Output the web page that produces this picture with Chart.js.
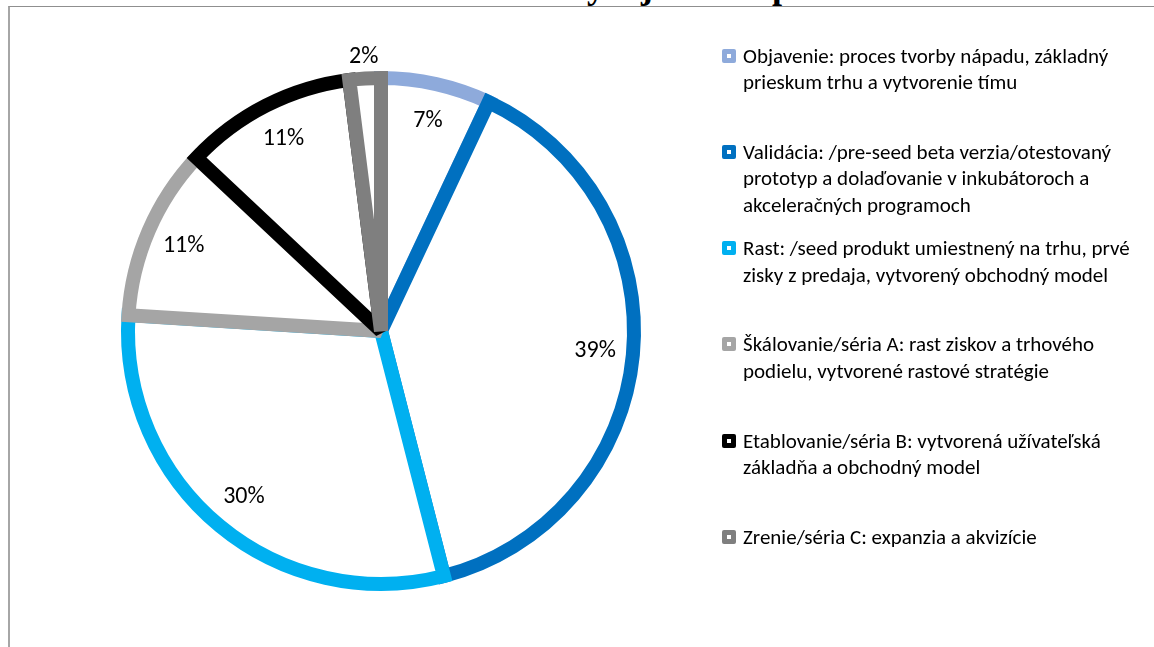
<!DOCTYPE html>
<html lang="sk">
<head>
    <meta charset="UTF-8">
    <title>Obdobia vývoja startupu</title>
    <script src="https://cdn.jsdelivr.net/npm/chart.js"></script>
    <style>
        body {
            margin: 0;
            background: #ffffff;
            font-family: Carlito, Calibri, Lato, sans-serif;
            overflow: hidden;
        }
        .frame {
            position: absolute;
            left: 8px;
            top: 6px;
            right: 0;
            bottom: 0;
            border-top: 1px solid #8f8f8f;
            border-left: 2px solid #a6a6a6;
        }
        .title {
            position: absolute;
            top: -35px;
            left: 0;
            width: 1238px;
            text-align: center;
            font: bold 36px 'Liberation Serif', serif;
            color: #000;
        }
        #chartBox {
            position: absolute;
            left: 0;
            top: 0;
        }
        .legend-item {
            position: absolute;
            left: 722px;
            font-size: 21px;
            line-height: 26.5px;
            color: #000;
        }
        .legend-item .box {
            position: absolute;
            left: 0;
            top: 6px;
            width: 14px;
            height: 14px;
            border-radius: 2px;
        }
        .legend-item .box::after {
            content: '';
            position: absolute;
            left: 5px;
            top: 5px;
            width: 4px;
            height: 4px;
            background: #ffffff;
        }
        .legend-item .text {
            margin-left: 21px;
            white-space: nowrap;
        }
    </style>
</head>
<body>
    <div class="frame"></div>
    <div class="title">Obdobia vývoja startupu</div>
    <canvas id="chartBox" width="1154" height="647"></canvas>
    <div id="legend"></div>

    <script>
        // stages of a startup and their share in percent
        const stageLines = [
            ['Objavenie: proces tvorby nápadu, základný', 'prieskum trhu a vytvorenie tímu'],
            ['Validácia: /pre-seed beta verzia/otestovaný', 'prototyp a dolaďovanie v inkubátoroch a', 'akceleračných programoch'],
            ['Rast: /seed produkt umiestnený na trhu, prvé', 'zisky z predaja, vytvorený obchodný model'],
            ['Škálovanie/séria A: rast ziskov a trhového', 'podielu, vytvorené rastové stratégie'],
            ['Etablovanie/séria B: vytvorená užívateľská', 'základňa a obchodný model'],
            ['Zrenie/séria C: expanzia a akvizície']
        ];
        const shares = [7, 39, 30, 11, 11, 2];
        const stageColors = ['#8eaadb', '#0070c0', '#00b0f0', '#a5a5a5', '#000000', '#7f7f7f'];

        // legend on the right, one slot per stage
        const legendEl = document.getElementById('legend');
        stageLines.forEach((lines, i) => {
            const item = document.createElement('div');
            item.className = 'legend-item';
            item.style.top = (42.5 + i * 96.3) + 'px';
            const box = document.createElement('span');
            box.className = 'box';
            box.style.background = stageColors[i];
            const text = document.createElement('div');
            text.className = 'text';
            text.innerHTML = lines.join('<br>');
            item.appendChild(box);
            item.appendChild(text);
            legendEl.appendChild(item);
        });

        // keep sharp outer corners but bevel the narrow tips at the centre
        const borderJoins = {
            id: 'borderJoins',
            beforeDatasetsDraw(chart) {
                chart.ctx.miterLimit = 2;
            }
        };

        // percentage labels inside the slices, small ones just outside
        const pctLabels = {
            id: 'pctLabels',
            afterDatasetsDraw(chart) {
                const ctx = chart.ctx;
                const meta = chart.getDatasetMeta(0);
                const total = shares.reduce((a, b) => a + b, 0);
                ctx.save();
                ctx.font = '24px Carlito, Calibri, Lato, sans-serif';
                ctx.fillStyle = '#000000';
                ctx.textAlign = 'center';
                ctx.textBaseline = 'middle';
                meta.data.forEach((arc, i) => {
                    const p = arc.getProps(['x', 'y', 'startAngle', 'endAngle', 'outerRadius'], true);
                    const mid = (p.startAngle + p.endAngle) / 2;
                    const r = shares[i] / total < 0.05 ? p.outerRadius + 22 : p.outerRadius * 0.85;
                    ctx.fillText(shares[i] + '%', p.x + Math.cos(mid) * r, p.y + Math.sin(mid) * r);
                });
                ctx.restore();
            }
        };

        const ctx = document.getElementById('chartBox').getContext('2d');
        const stageChart = new Chart(ctx, {
            type: 'pie',
            data: {
                labels: stageLines.map(l => l.join(' ')),
                datasets: [{
                    data: shares,
                    backgroundColor: '#ffffff',
                    borderColor: stageColors,
                    borderWidth: 14,
                    borderJoinStyle: 'miter'
                }]
            },
            options: {
                responsive: false,
                devicePixelRatio: 1,
                animation: false,
                events: [],
                layout: { padding: { left: 121, right: 513, top: 71, bottom: 56 } },
                plugins: {
                    legend: { display: false },
                    tooltip: { enabled: false }
                }
            },
            plugins: [borderJoins, pctLabels]
        });
    </script>
</body>
</html>
